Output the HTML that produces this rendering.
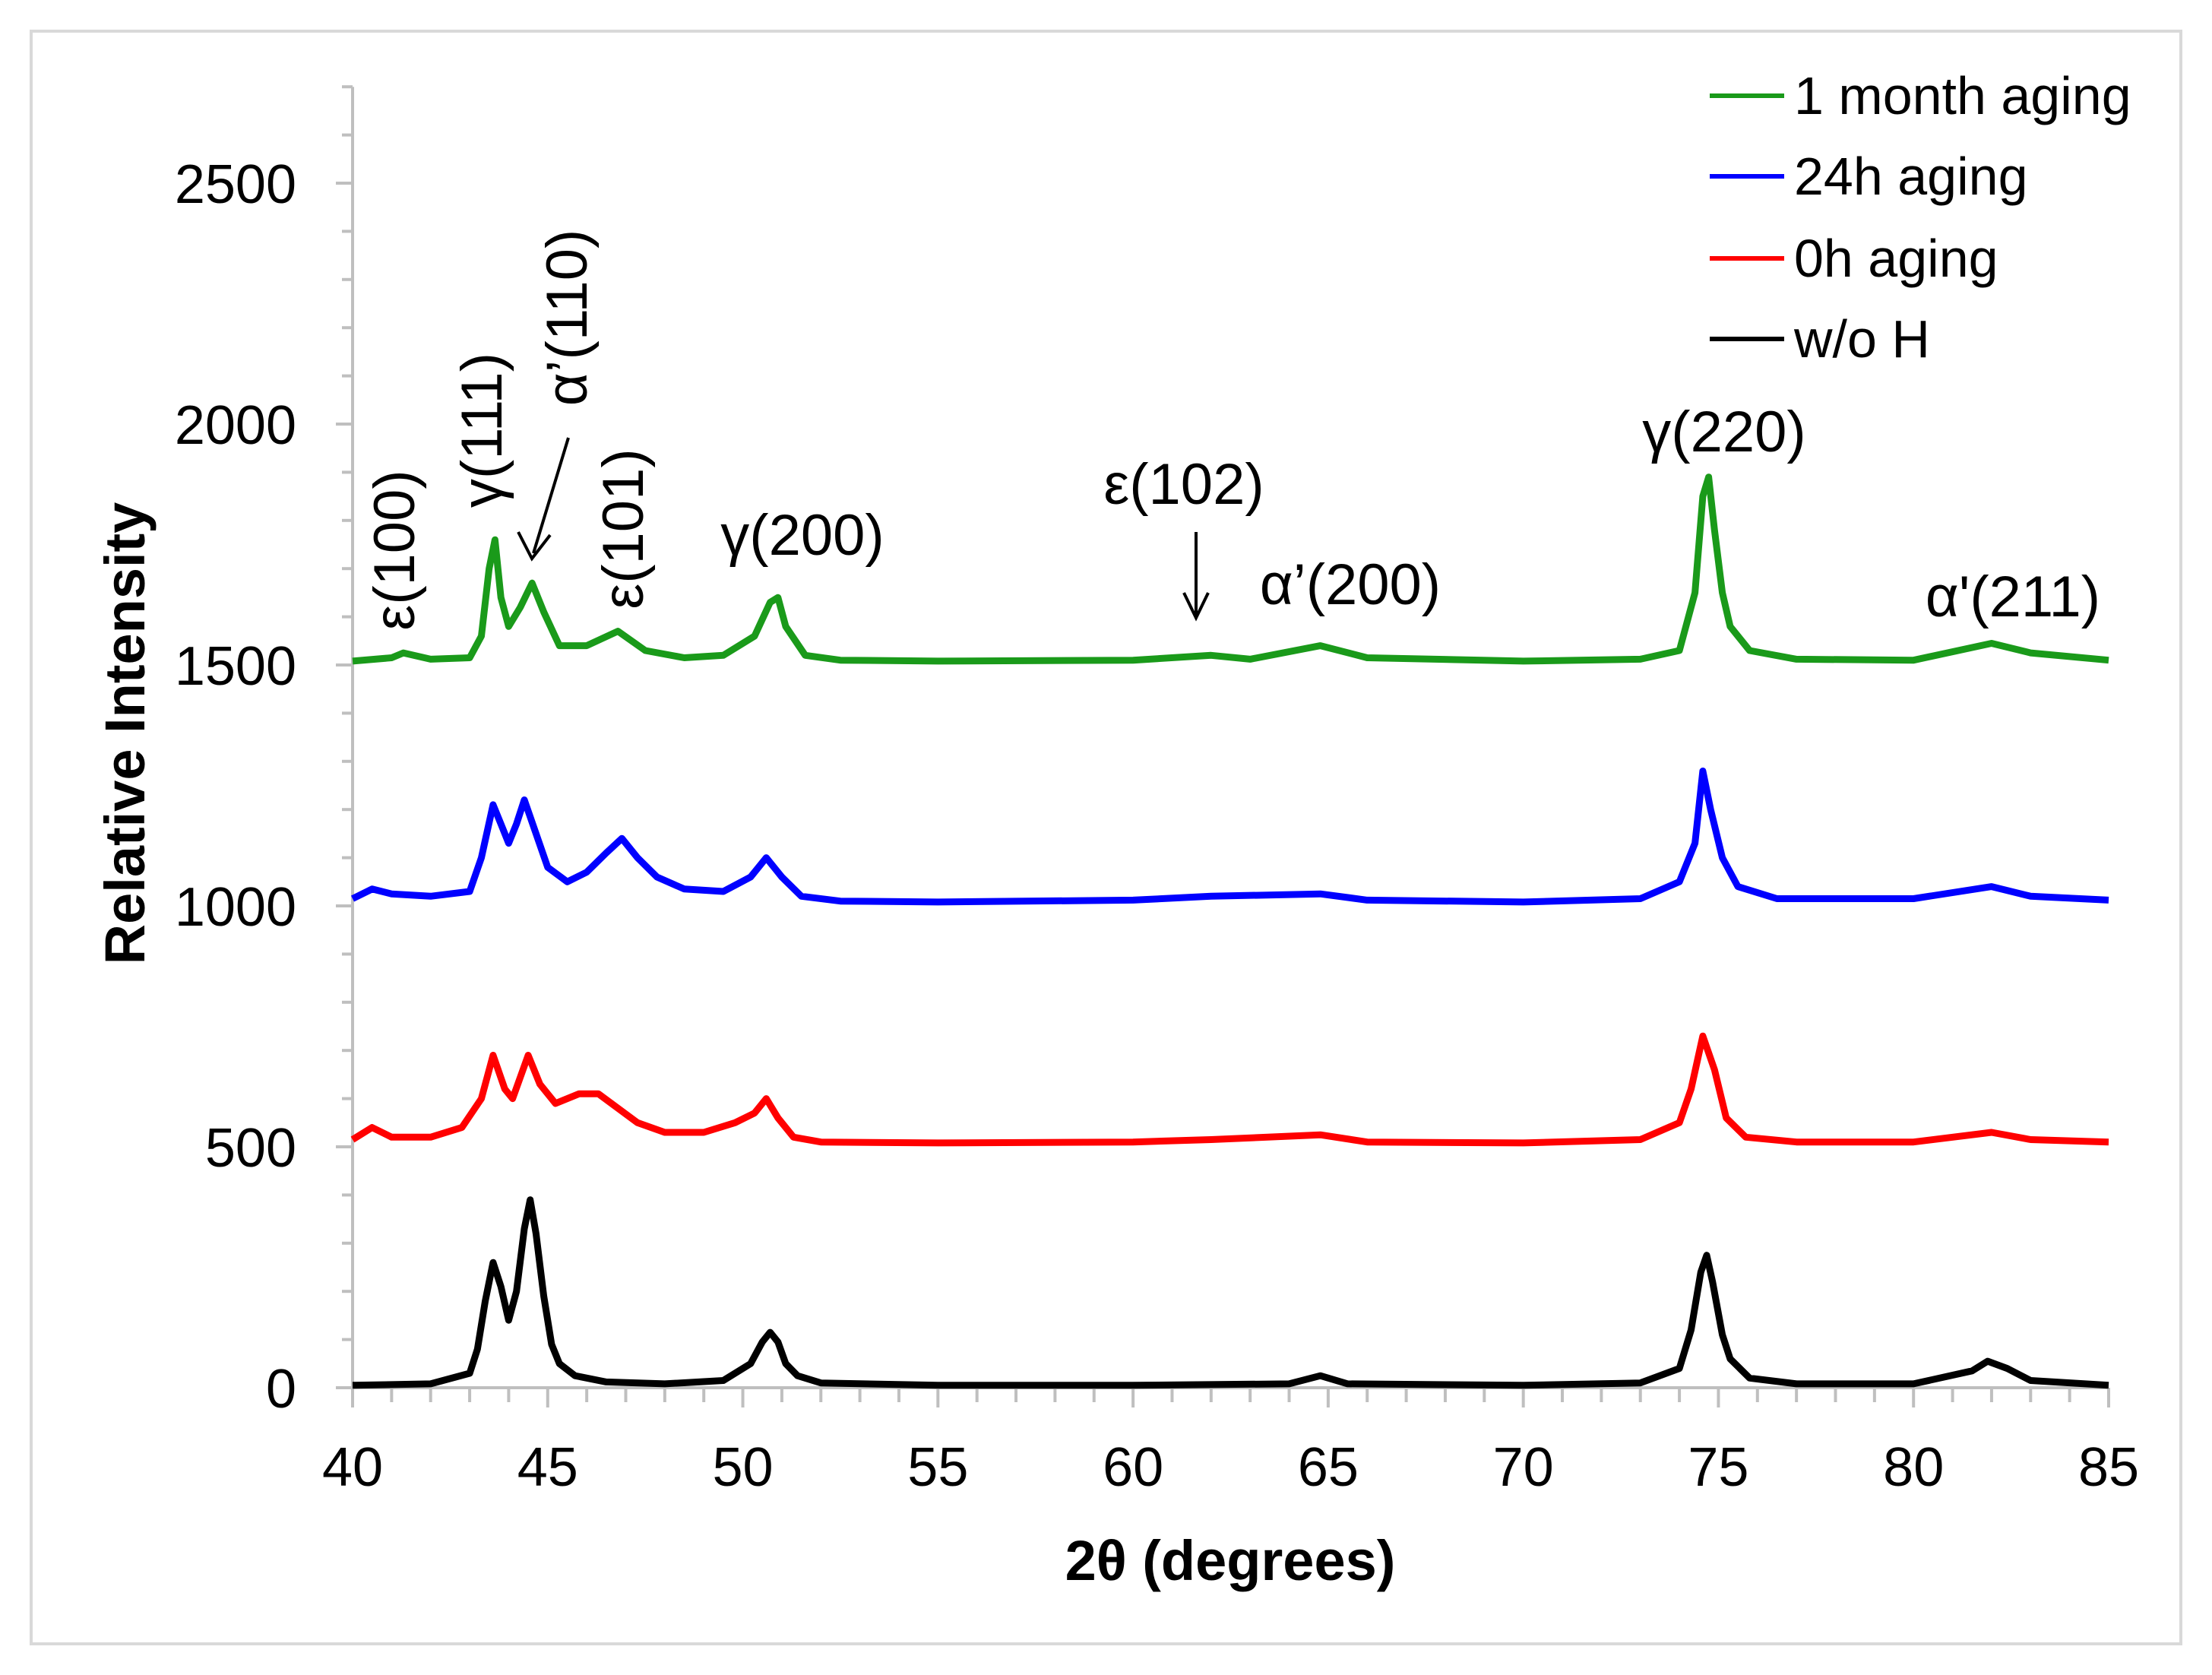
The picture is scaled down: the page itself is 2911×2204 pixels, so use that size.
<!DOCTYPE html>
<html><head><meta charset="utf-8"><style>
html,body{margin:0;padding:0;background:#fff}
svg{display:block;font-family:"Liberation Sans","DejaVu Sans",sans-serif}
</style></head><body>
<svg id="chart" width="2911" height="2204" viewBox="0 0 2911 2204">
<rect x="41" y="41" width="2829" height="2122" fill="#fff" stroke="#d9d9d9" stroke-width="4"/>
<g id="axes"></g>
<g id="series"></g>
<g id="annot" font-size="76" fill="#000">
<text transform="translate(545,724) rotate(-90)" text-anchor="middle">ε(100)</text>
<text transform="translate(660,566) rotate(-90)" text-anchor="middle">γ(111)</text>
<text transform="translate(772,418) rotate(-90)" text-anchor="middle">α’(110)</text>
<text transform="translate(846,696) rotate(-90)" text-anchor="middle">ε(101)</text>
<text x="1056" y="730" text-anchor="middle">γ(200)</text>
<text x="1558" y="663" text-anchor="middle">ε(102)</text>
<text x="1777" y="795" text-anchor="middle">α’(200)</text>
<text x="2269" y="594" text-anchor="middle">γ(220)</text>
<text x="2649" y="811" text-anchor="middle">α'(211)</text>
<g stroke="#000" stroke-width="4" fill="none">
<line x1="748" y1="576" x2="702" y2="728"/>
<polyline points="682,700 700,735 724,704"/>
<line x1="1574" y1="700" x2="1574" y2="810"/>
<polyline points="1558,780 1574,813 1590,780"/>
</g>
</g>
<g id="legend" font-size="70"></g>
<text x="1619" y="2079" text-anchor="middle" font-size="74" font-weight="bold">2θ (degrees)</text>
<text transform="translate(190,965) rotate(-90)" text-anchor="middle" font-size="74" font-weight="bold">Relative Intensity</text>
</svg>
<script>
const xTicks=[40,45,50,55,60,65,70,75,80,85];
const yTicks=[0,500,1000,1500,2000,2500];
const seriesNames=["1 month aging","24h aging","0h aging","w/o H"];
const seriesColors=["#1a9a1a","#0000ff","#ff0000","#000000"];
const xBlack=[40,42,43,43.2,43.4,43.6,43.8,44.0,44.2,44.4,44.55,44.7,44.9,45.1,45.3,45.7,46.5,48,49.5,50.2,50.5,50.7,50.9,51.1,51.4,52,55,60,64,64.8,65.5,70,73,74,74.3,74.55,74.7,74.85,75.1,75.3,75.8,77,80,81.5,81.9,82.4,83,85];
const yBlack=[5,8,30,80,180,260,210,140,200,330,390,320,190,90,50,25,12,8,15,50,95,115,95,50,25,10,5,5,8,25,8,5,10,40,120,240,275,220,110,60,20,8,8,35,55,40,15,5];
const xRed=[40,40.5,41,42,42.8,43.3,43.6,43.9,44.1,44.5,44.8,45.2,45.8,46.3,46.8,47.3,48,49,49.8,50.3,50.6,50.9,51.3,52,55,60,62,64.8,66,70,73,74,74.3,74.6,74.9,75.2,75.7,77,80,82,83,85];
const yRed=[515,540,520,520,540,600,690,620,600,690,630,590,610,610,580,550,530,530,550,570,600,560,520,510,508,510,515,525,510,508,515,550,620,730,660,560,520,510,510,530,515,510];
const xBlue=[40,40.5,41,42,43,43.3,43.6,43.8,44.0,44.2,44.4,44.7,45.0,45.5,46,46.5,46.9,47.3,47.8,48.5,49.5,50.2,50.6,51.0,51.5,52.5,55,60,62,64.8,66,70,73,74,74.4,74.6,74.8,75.1,75.5,76.5,80,82,83,85];
const yBlue=[1015,1035,1025,1020,1030,1100,1210,1170,1130,1170,1220,1150,1080,1050,1070,1110,1140,1100,1060,1035,1030,1060,1100,1060,1020,1010,1008,1012,1020,1025,1012,1008,1015,1050,1130,1280,1200,1100,1040,1015,1015,1040,1020,1012];
const xGreen=[40,41,41.3,42,43,43.3,43.5,43.65,43.8,44.0,44.3,44.6,44.9,45.3,46,46.8,47.5,48.5,49.5,50.3,50.7,50.9,51.1,51.6,52.5,55,60,62,63,64.8,66,70,73,74,74.4,74.6,74.75,74.9,75.1,75.3,75.8,77,80,82,83,85];
const yGreen=[1508,1515,1525,1512,1515,1560,1700,1760,1640,1580,1620,1670,1610,1540,1540,1570,1530,1515,1520,1560,1630,1640,1580,1520,1510,1508,1510,1520,1512,1540,1515,1508,1512,1530,1650,1850,1890,1780,1650,1580,1530,1512,1510,1545,1525,1510];
const NS="http://www.w3.org/2000/svg";
const X0=464,X1=2775,Y0=1826,Y2500=241;
function sx(v){return X0+(v-40)/(85-40)*(X1-X0);}
function sy(v){return Y0-v/2500*(Y0-Y2500);}
function mk(t,a,p){const e=document.createElementNS(NS,t);for(const k in a)e.setAttribute(k,a[k]);p.appendChild(e);return e;}
const axes=document.getElementById('axes');
let el=mk('line',{x1:X0,y1:sy(2700),x2:X0,y2:Y0,stroke:'#bfbfbf','stroke-width':4},axes);


el=mk('line',{x1:X0-22,y1:Y0,x2:X1,y2:Y0,stroke:'#bfbfbf','stroke-width':4},axes);


for(let v=0;v<=2700;v+=100){const major=v%500===0;
 el=mk('line',{x1:X0-(major?22:14),y1:sy(v),x2:X0,y2:sy(v),stroke:'#bfbfbf','stroke-width':4},axes);
 
 }
for(let v=40;v<=85;v+=1){const major=v%5===0;
 el=mk('line',{x1:sx(v),y1:Y0,x2:sx(v),y2:Y0+(major?26:19),stroke:'#bfbfbf','stroke-width':4},axes);
 
 }
yTicks.forEach(v=>{el=mk('text',{x:390,y:sy(v)+26,'text-anchor':'end','font-size':72},axes);el.textContent=v;
 
 });
xTicks.forEach(v=>{el=mk('text',{x:sx(v),y:1955,'text-anchor':'middle','font-size':72},axes);el.textContent=v;
 
 });
const sg=document.getElementById('series');
const sets=[[xBlack,yBlack,3,'series-wo-h'],[xRed,yRed,2,'series-0h'],[xBlue,yBlue,1,'series-24h'],[xGreen,yGreen,0,'series-1month']];
sets.forEach(s=>{const pts=s[0].map((x,i)=>sx(x).toFixed(1)+','+sy(s[1][i]).toFixed(1)).join(' ');
 el=mk('polyline',{points:pts,fill:'none',stroke:seriesColors[s[2]],'stroke-width':9,'stroke-linejoin':'round'},sg);
 
 });
const lg=document.getElementById('legend');
const ly=[126,232,340,446];
seriesNames.forEach((n,i)=>{
 el=mk('line',{x1:2250,y1:ly[i],x2:2348,y2:ly[i],stroke:seriesColors[i],'stroke-width':6},lg);
 
 
 el=mk('text',{x:2361,y:ly[i]+24},lg);el.textContent=n;
 
 });
</script>
</body></html>
